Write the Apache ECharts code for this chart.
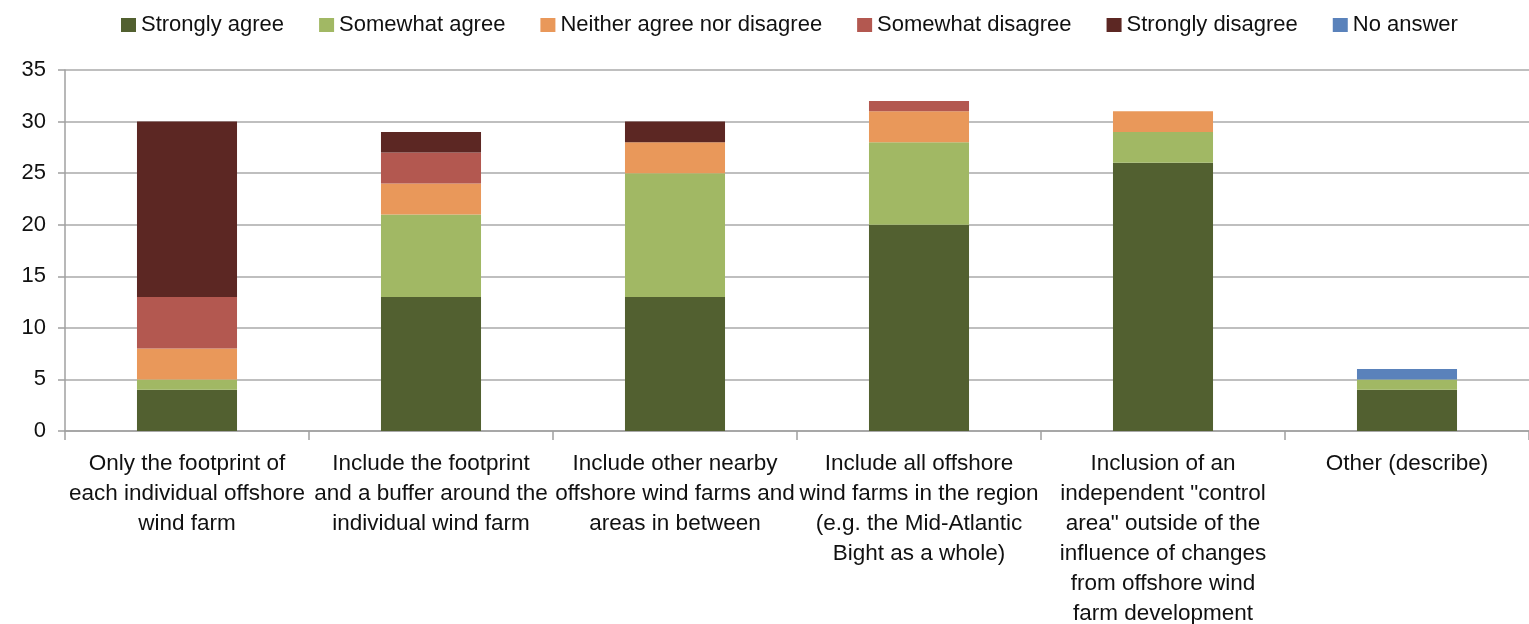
<!DOCTYPE html>
<html>
<head>
<meta charset="utf-8">
<script src="https://cdn.jsdelivr.net/npm/echarts@6/dist/echarts.min.js"></script>
<style>
html,body{margin:0;padding:0;background:#fff;}
#main{width:1529px;height:624px;}
</style>
</head>
<body>
<div id="main"></div>
<script>
const categories = [
  "Only the footprint of\neach individual offshore\nwind farm",
  "Include the footprint\nand a buffer around the\nindividual wind farm",
  "Include other nearby\noffshore wind farms and\nareas in between",
  "Include all offshore\nwind farms in the region\n(e.g. the Mid-Atlantic\nBight as a whole)",
  "Inclusion of an\nindependent \"control\narea\" outside of the\ninfluence of changes\nfrom offshore wind\nfarm development",
  "Other (describe)"
];
const seriesNames = ["Strongly agree","Somewhat agree","Neither agree nor disagree","Somewhat disagree","Strongly disagree","No answer"];
const stronglyAgree    = [4, 13, 13, 20, 26, 4];
const somewhatAgree    = [1, 8, 12, 8, 3, 1];
const neither          = [3, 3, 3, 3, 2, 0];
const somewhatDisagree = [5, 3, 0, 1, 0, 0];
const stronglyDisagree = [17, 2, 2, 0, 0, 0];
const noAnswer         = [0, 0, 0, 0, 0, 1];
const yTicks = [0, 5, 10, 15, 20, 25, 30, 35];

const colors = ["#526030","#a1b864","#e9985a","#b35850","#5c2723","#5a82bb"];
const values = [stronglyAgree, somewhatAgree, neither, somewhatDisagree, stronglyDisagree, noAnswer];
const FONT = "'Liberation Sans', Arial, sans-serif";

const chart = echarts.init(document.getElementById('main'));
chart.setOption({
  animation: false,
  color: colors,
  textStyle: { fontFamily: FONT },
  legend: {
    top: 9,
    left: 116,
    itemWidth: 15,
    itemHeight: 14,
    itemGap: 35,
    icon: 'rect',
    textStyle: { fontSize: 22, color: '#111', fontFamily: FONT, padding: [0,0,0,0] },
    data: seriesNames
  },
  grid: { left: 65, right: 0, top: 70, bottom: 193, containLabel: false, outerBoundsMode: 'none' },
  xAxis: {
    type: 'category',
    data: categories,
    axisLine: { lineStyle: { color: '#a0a0a0', width: 1.5 } },
    axisTick: { show: true, length: 9, lineStyle: { color: '#a0a0a0', width: 1.5 } },
    axisLabel: { interval: 0, fontSize: 22.5, color: '#111', lineHeight: 30, margin: 18, fontFamily: FONT }
  },
  yAxis: {
    type: 'value',
    min: 0, max: 35, interval: 5,
    axisLine: { show: true, lineStyle: { color: '#a0a0a0', width: 1.5 } },
    axisTick: { show: true, length: 7, lineStyle: { color: '#a0a0a0', width: 1.5 } },
    splitLine: { lineStyle: { color: '#aaa', width: 1.5 } },
    axisLabel: { fontSize: 22, color: '#111', margin: 19, fontFamily: FONT,
      formatter: v => yTicks.includes(v) ? String(v) : '' }
  },
  series: seriesNames.map((n, i) => ({
    name: n,
    type: 'bar',
    stack: 'total',
    barWidth: '41%',
    data: values[i],
    itemStyle: { color: colors[i] }
  }))
});
</script>
</body>
</html>
